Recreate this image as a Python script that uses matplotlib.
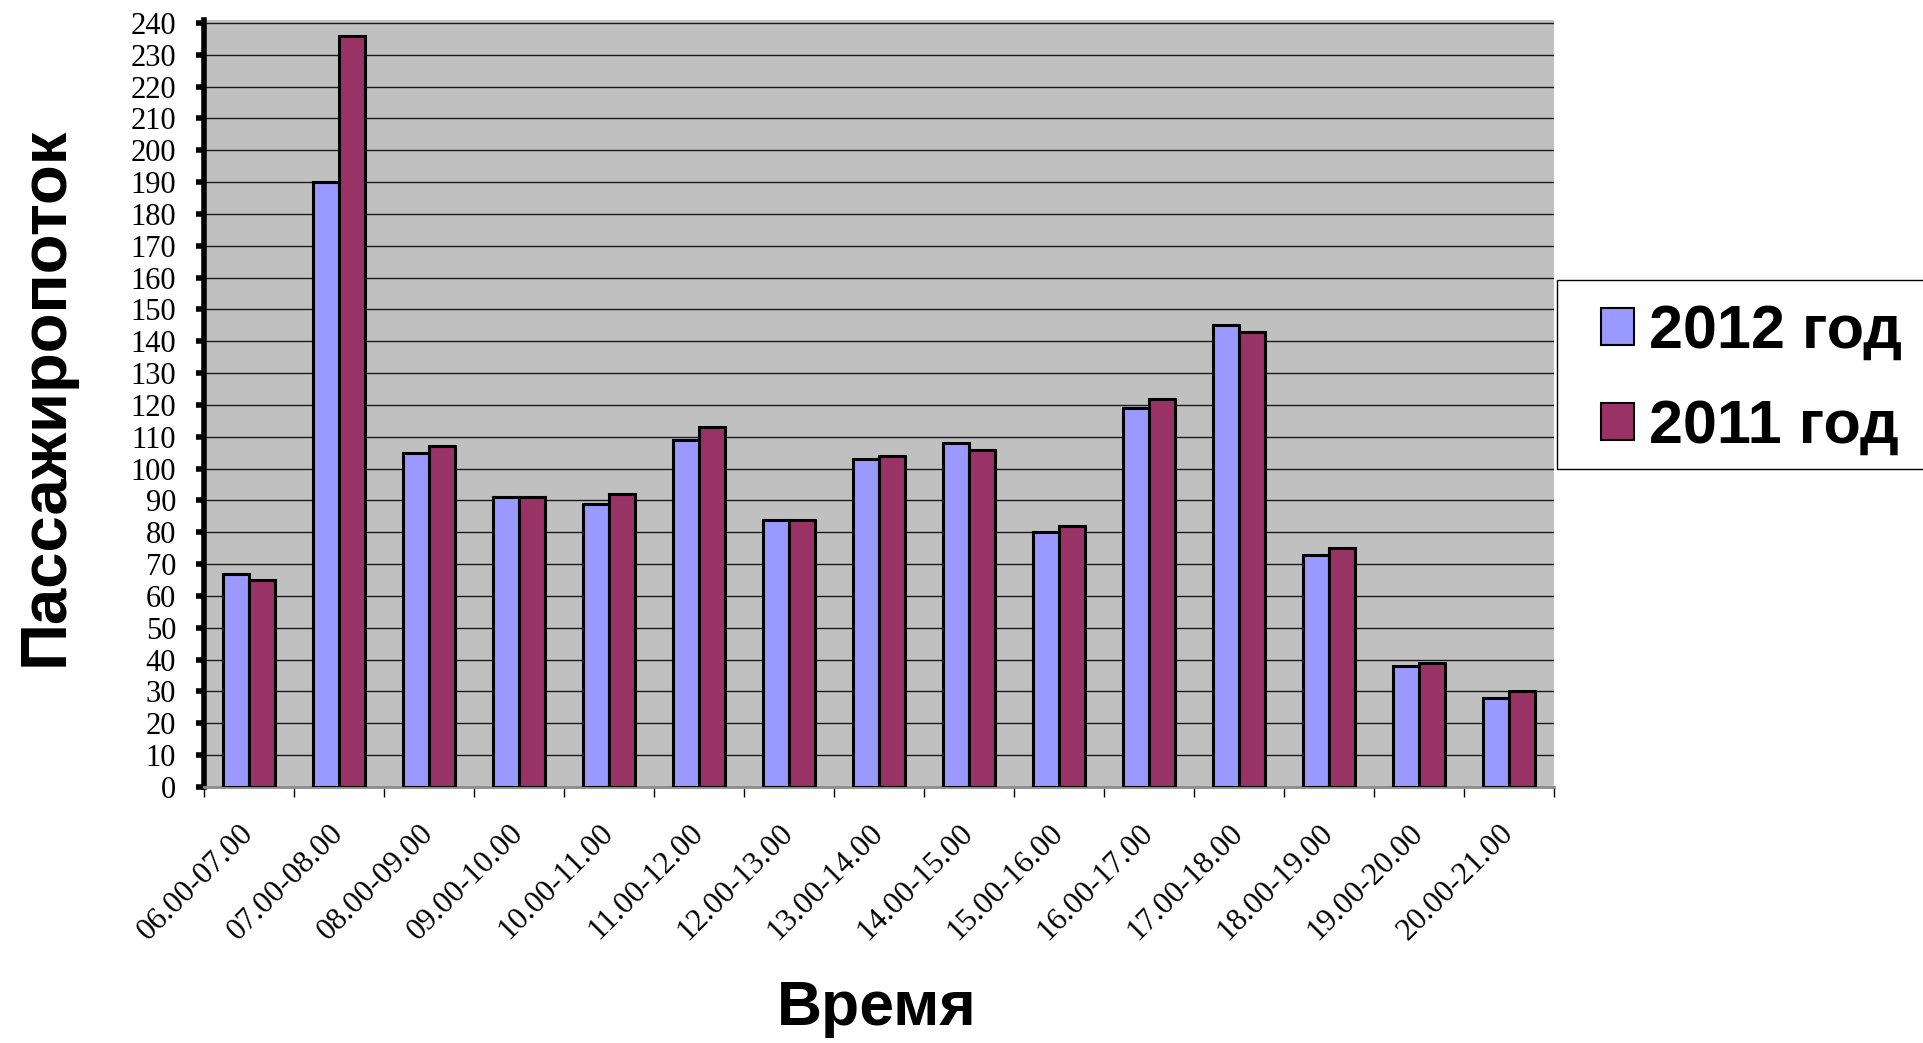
import matplotlib

matplotlib.use("Agg")

import matplotlib.pyplot as plt
import numpy as np
from matplotlib.patches import Rectangle


# Passenger flow by hour of day, two years side by side.

intervals = [
    "06.00-07.00",
    "07.00-08.00",
    "08.00-09.00",
    "09.00-10.00",
    "10.00-11.00",
    "11.00-12.00",
    "12.00-13.00",
    "13.00-14.00",
    "14.00-15.00",
    "15.00-16.00",
    "16.00-17.00",
    "17.00-18.00",
    "18.00-19.00",
    "19.00-20.00",
    "20.00-21.00",
]

flow_2012 = [67, 190, 105, 91, 89, 109, 84, 103, 108, 80, 119, 145, 73, 38, 28]

flow_2011 = [65, 236, 107, 91, 92, 113, 84, 104, 106, 82, 122, 143, 75, 39, 30]

series_labels = ["2012 год", "2011 год"]

y_ticks = list(range(0, 250, 10))

x_title = "Время"
y_title = "Пассажиропоток"

COLOR_2012 = "#9999FF"
COLOR_2011 = "#993366"
PLOT_BG = "#C0C0C0"

SANS = ["Liberation Sans", "DejaVu Sans"]
SERIF = ["Liberation Serif", "DejaVu Serif"]

W, H = 1924, 1043


def fx(px):
    return px / W


def fy(py):
    return 1 - py / H


fig = plt.figure(
    figsize=(W / 100, H / 100),
    dpi=100,
)

ax = fig.add_axes(
    [
        fx(204),
        fy(787),
        fx(1554) - fx(204),
        fy(20) - fy(787),
    ]
)

ax.set_facecolor(PLOT_BG)

x = np.arange(len(intervals))
bar_w = 0.29

bars_2012 = ax.bar(
    x - bar_w / 2,
    flow_2012,
    width=bar_w,
    color=COLOR_2012,
    edgecolor="black",
    linewidth=2.2,
    zorder=3,
    label=series_labels[0],
)

bars_2011 = ax.bar(
    x + bar_w / 2,
    flow_2011,
    width=bar_w,
    color=COLOR_2011,
    edgecolor="black",
    linewidth=2.2,
    zorder=3,
    label=series_labels[1],
)

ax.set_xlim(-0.5, len(intervals) - 0.5)
ax.set_ylim(0, 240.9)

# horizontal grid every 10
ax.set_yticks(y_ticks)
ax.set_yticklabels(
    [str(v) for v in y_ticks],
    fontfamily=SERIF,
    fontsize=22,
)
ax.yaxis.grid(
    True,
    color="#1a1a1a",
    linewidth=1.0,
    zorder=1,
)
ax.set_axisbelow(True)

ax.tick_params(
    axis="y",
    direction="out",
    length=6,
    width=4,
    pad=14,
    color="black",
)

# boundary ticks between categories, labels at centres
ax.set_xticks(np.arange(-0.5, len(intervals), 1.0))
ax.set_xticklabels([])
ax.set_xticks(x, minor=True)
ax.set_xticklabels(
    intervals,
    minor=True,
    rotation=45,
    ha="right",
    va="center",
    rotation_mode="anchor",
    fontfamily=SERIF,
    fontsize=22.5,
)
ax.tick_params(
    axis="x",
    which="major",
    direction="out",
    length=7,
    width=1,
    color="black",
)
ax.tick_params(
    axis="x",
    which="minor",
    length=0,
    pad=30,
)

ax.spines["left"].set_linewidth(4)
ax.spines["left"].set_color("black")
ax.spines["bottom"].set_linewidth(2)
ax.spines["bottom"].set_color("#8c8c8c")
ax.spines["top"].set_visible(False)
ax.spines["right"].set_visible(False)

fig.text(
    fx(46),
    fy(396),
    y_title,
    rotation=90,
    ha="center",
    va="center",
    fontfamily=SANS,
    fontweight="bold",
    fontsize=47,
)

fig.text(
    fx(877),
    fy(1008),
    x_title,
    ha="center",
    va="center",
    fontfamily=SANS,
    fontweight="bold",
    fontsize=45,
)

# legend frame runs off the right edge
fig.add_artist(
    Rectangle(
        (fx(1557), fy(469)),
        fx(1940) - fx(1557),
        fy(280) - fy(469),
        transform=fig.transFigure,
        facecolor="white",
        edgecolor="black",
        linewidth=1,
        zorder=1,
    )
)

legend = fig.legend(
    handles=[bars_2012, bars_2011],
    labels=series_labels,
    loc="center left",
    bbox_to_anchor=(fx(1601), fy(380)),
    frameon=False,
    borderpad=0,
    borderaxespad=0,
    handlelength=0.54,
    handleheight=0.54,
    handletextpad=0.25,
    labelspacing=0.62,
    prop={
        "family": SANS,
        "weight": "bold",
        "size": 44,
    },
)
legend.set_zorder(2)

for patch in legend.get_patches():
    patch.set_linewidth(1.5)

fig.savefig("out.png", dpi=100)
